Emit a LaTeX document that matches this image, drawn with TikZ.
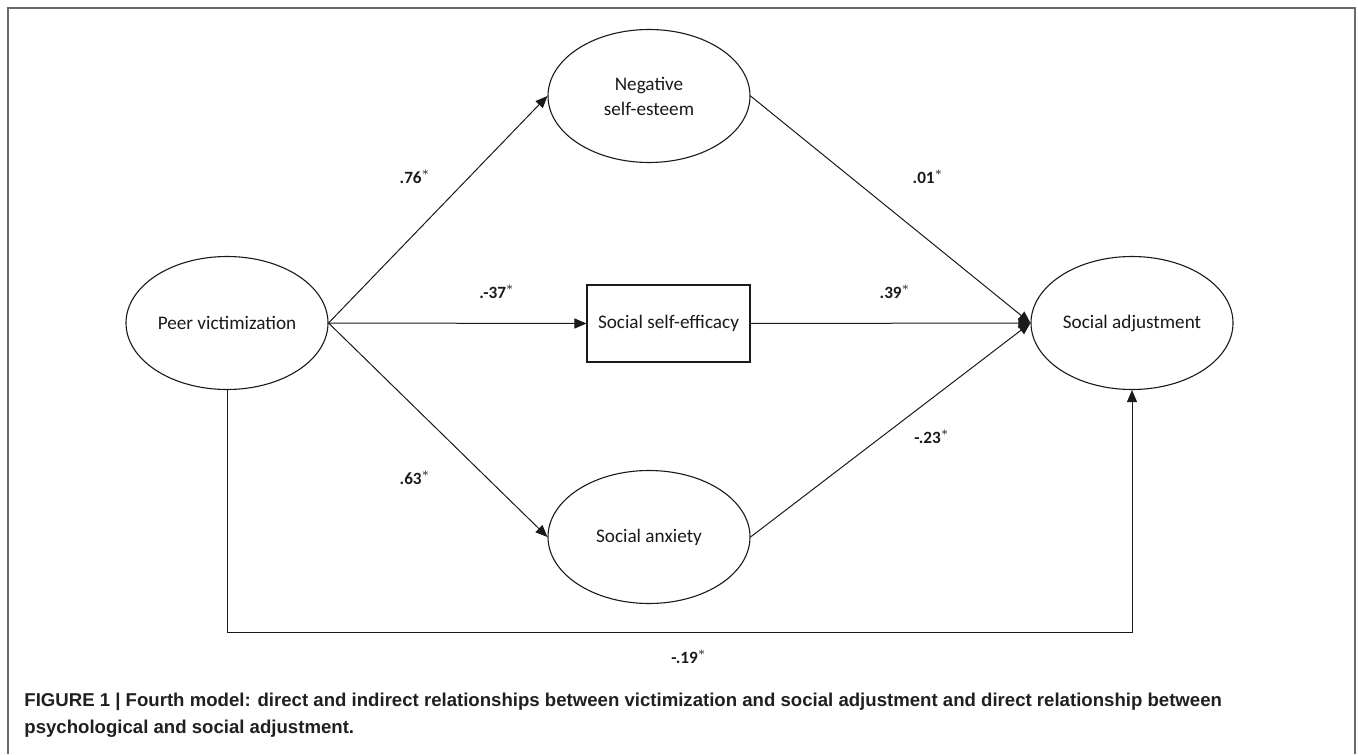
\documentclass[tikz,border=0pt]{standalone}
\usepackage{fontspec}
\usepackage{xcolor}
\usepackage{tikz}
\usetikzlibrary{arrows.meta,shapes.geometric,positioning}
\setmainfont{Carlito}
\newfontfamily\capfont{Liberation Sans}
\definecolor{Ink}{HTML}{1A1A1A}
\definecolor{Frame}{HTML}{6A6A6A}
\definecolor{CapInk}{HTML}{231F20}

\begin{document}
\begin{tikzpicture}[
  x=0.5pt,y=-0.5pt,
  latent/.style={ellipse,draw=Ink,line width=0.55pt,inner sep=0pt,
    minimum width=101pt,minimum height=66.5pt,align=center,
    font=\fontsize{9.6}{12.5}\selectfont,text=Ink},
  observed/.style={rectangle,draw=Ink,line width=0.55pt,inner sep=0pt,
    minimum width=81.5pt,minimum height=38.5pt,
    font=\fontsize{9.6}{12.5}\selectfont,text=Ink},
  path/.style={-{Triangle[length=6pt,width=5pt]},draw=Ink,line width=0.5pt},
  coef/.style={font=\bfseries\fontsize{8.6}{10}\selectfont,text=Ink,inner sep=0pt},
  caption/.style={font=\capfont\bfseries\fontsize{9.3}{13.4}\selectfont,text=CapInk,
    align=left,anchor=north west,inner sep=0pt}
]
\useasboundingbox (0,0) rectangle (1358,754);
\fill[white] (0,0) rectangle (1358,754);
% Frame, open at the bottom.
\draw[Frame,line width=0.8pt] (8,754)--(8,8)--(1355,8)--(1355,754);

% Variables.
\node[latent] (pv) at (227,323) {Peer victimization};
\node[latent] (nse) at (649,96) {Negative\\self-esteem};
\node[observed] (sse) at (668.5,323.5) {Social self-efficacy};
\node[latent] (sax) at (649,537) {Social anxiety};
\node[latent] (sadj) at (1132,323) {Social adjustment};
\coordinate (corner) at (1132,632);

% Paths.
\draw[path] (pv.east)--(nse.west);
\draw[path] (pv.east)--(sse.west);
\draw[path] (pv.east)--(sax.west);
\draw[path] (nse.east)--(sadj.west);
\draw[path] (sse.east)--(sadj.west);
\draw[path] (sax.east)--(sadj.west);
\draw[path] (pv.south) |- (corner)--(sadj.south);

% Coefficients.
\node[coef] (c76) at (415,177) {.76$^{*}$};
\node[coef] (c37) at (497,292) {.-37$^{*}$};
\node[coef] (c63) at (415,478) {.63$^{*}$};
\node[coef] (c01) at (928,177) {.01$^{*}$};
\node[coef] (c39) at (895,292) {.39$^{*}$};
\node[coef] (c23) at (932,437) {-.23$^{*}$};
\node[coef] (c19) at (689,657) {-.19$^{*}$};

% Caption.
\node[caption] (cap) at (24,693) {FIGURE 1 | Fourth model: direct and indirect relationships between victimization and social adjustment and direct relationship between\\psychological and social adjustment.};
\end{tikzpicture}
\end{document}
